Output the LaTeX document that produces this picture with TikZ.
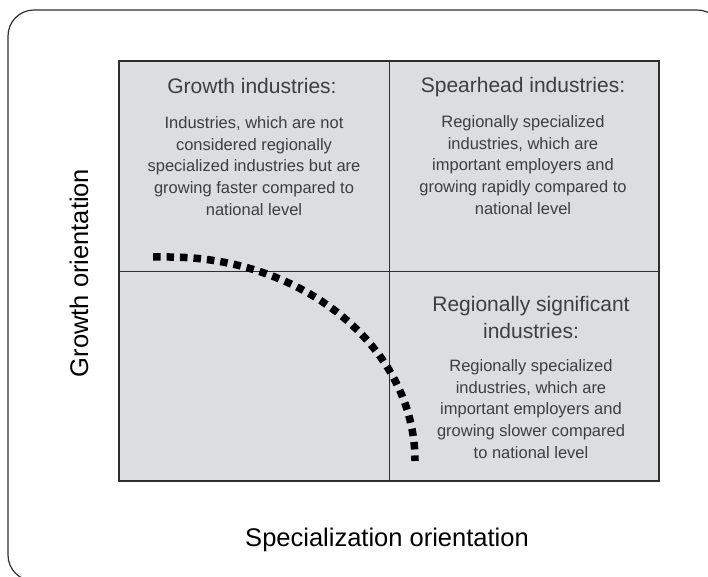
\documentclass[tikz,border=0pt]{standalone}
\usepackage{fontspec}
\setmainfont{Liberation Sans}
\definecolor{cellgray}{HTML}{DCDDDE}
\definecolor{textgray}{HTML}{3E3E3E}
\definecolor{linegray}{HTML}{2E2E2E}

\begin{document}
\begin{tikzpicture}[x=1pt, y=1pt,
  quadtitle/.style={text=textgray, align=center, font=\fontsize{21}{27}\selectfont},
  quadbody/.style={text=textgray, align=center, font=\fontsize{16.5}{21.8}\selectfont},
  axislabel/.style={font=\fontsize{25.5}{30}\selectfont}]
\useasboundingbox (0,0) rectangle (708,577);
\begin{scope}
\clip (0,0) rectangle (708,577);
\draw[linegray, line width=1.2pt, rounded corners=26pt] (8,-4) rectangle (723,567);
\end{scope}
\coordinate (sw) at (119,96);
\coordinate (ne) at (659,516);
\coordinate (mid) at (389,306);
\filldraw[fill=cellgray, draw=linegray, line width=1.5pt] (sw) rectangle (ne);
\draw[linegray, line width=0.9pt] (sw -| mid) -- (ne -| mid);
\draw[linegray, line width=0.9pt] (sw |- mid) -- (ne |- mid);
% dotted border of the regional core
\draw[line width=7.5pt, dash pattern=on 7.5pt off 6pt] (153,320) -- (168,320)
  arc[start angle=90, end angle=0, x radius=247, y radius=204];
% growth industries
\node[quadtitle] (growth) at (252,491) {Growth industries:};
\node[quadbody] (growthtxt) at (254,411) {Industries, which are not\\considered regionally\\specialized industries but are\\growing faster compared to\\national level};
% spearhead industries
\node[quadtitle] (spear) at (523,490) {Spearhead industries:};
\node[quadbody] (speartxt) at (523,412) {Regionally specialized\\industries, which are\\important employers and\\growing rapidly compared to\\national level};
% regionally significant industries
\node[quadtitle] (signif) at (531,260) {Regionally significant\\industries:};
\node[quadbody] (signiftxt) at (531,168) {Regionally specialized\\industries, which are\\important employers and\\growing slower compared\\to national level};
% axes
\node[axislabel, rotate=90] (growthaxis) at (79,304) {Growth orientation};
\node[axislabel] (specaxis) at (387,37) {Specialization orientation};
\end{tikzpicture}
\end{document}
